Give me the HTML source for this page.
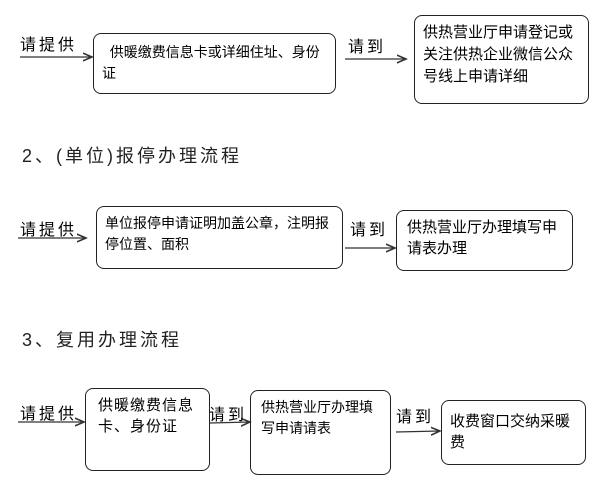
<!DOCTYPE html>
<html><head><meta charset="utf-8"><style>
body{margin:0;width:604px;height:484px;background:#fff;position:relative;overflow:hidden;font-family:"Liberation Sans","Noto Sans CJK SC",sans-serif;color:#000}
.b{position:absolute;border:1.3px solid #222;border-radius:8px;box-sizing:border-box;font-size:14px;line-height:21px;padding:6px 10px}
.l{position:absolute;font-size:16px;letter-spacing:3px}
.h{position:absolute;font-size:18px;letter-spacing:3px;color:#222}
svg{position:absolute;left:0;top:0}
</style></head><body>
<svg width="604" height="484"><defs><marker id="a" markerWidth="8" markerHeight="8" refX="7" refY="4" orient="auto"><path d="M0,1 L7,4 L0,7" fill="none" stroke="#333" stroke-width="1.2"/></marker></defs>
<g stroke="#333" stroke-width="1.3" marker-end="url(#a)">
<line x1="20" y1="57" x2="92" y2="57"/>
<line x1="345" y1="59" x2="406" y2="59"/>
<line x1="18" y1="238" x2="86" y2="238"/>
<line x1="345" y1="248" x2="395" y2="248"/>
<line x1="18" y1="422" x2="84" y2="422"/>
<line x1="210" y1="423" x2="250" y2="422"/>
<line x1="396" y1="432" x2="440" y2="431"/>
</g></svg>
<div class="l" style="left:20px;top:31px">请提供</div>
<div class="b" style="left:93px;top:33px;width:243px;height:61px;padding:8px 8px;font-size:14px">&nbsp;&nbsp;供暖缴费信息卡或详细住址、身份证</div>
<div class="l" style="left:348px;top:33px">请到</div>
<div class="b" style="left:414px;top:15px;width:175px;height:89px;font-size:15px;padding:6px 8px;line-height:22px">供热营业厅申请登记或关注供热企业微信公众号线上申请详细</div>
<div class="h" style="left:22px;top:142px">2、(单位)报停办理流程</div>
<div class="l" style="left:20px;top:216px">请提供</div>
<div class="b" style="left:96px;top:206px;width:247px;height:63px;font-size:14px;padding:6px 8px">单位报停申请证明加盖公章，注明报停位置、面积</div>
<div class="l" style="left:350px;top:216px">请到</div>
<div class="b" style="left:396px;top:210px;width:177px;height:61px;font-size:15px;padding:6px 10px">供热营业厅办理填写申请表办理</div>
<div class="h" style="left:22px;top:326px">3、复用办理流程</div>
<div class="l" style="left:20px;top:400px">请提供</div>
<div class="b" style="left:85px;top:388px;width:125px;height:83px;font-size:15px;padding:6px 12px;letter-spacing:1px">供暖缴费信息卡、身份证</div>
<div class="l" style="left:209px;top:401px">请到</div>
<div class="b" style="left:250px;top:390px;width:141px;height:85px;font-size:14px;padding:6px 10px">供热营业厅办理填写申请请表</div>
<div class="l" style="left:396px;top:403px">请到</div>
<div class="b" style="left:441px;top:400px;width:145px;height:65px;font-size:15px;padding:10px 8px">收费窗口交纳采暖费</div>
</body></html>
